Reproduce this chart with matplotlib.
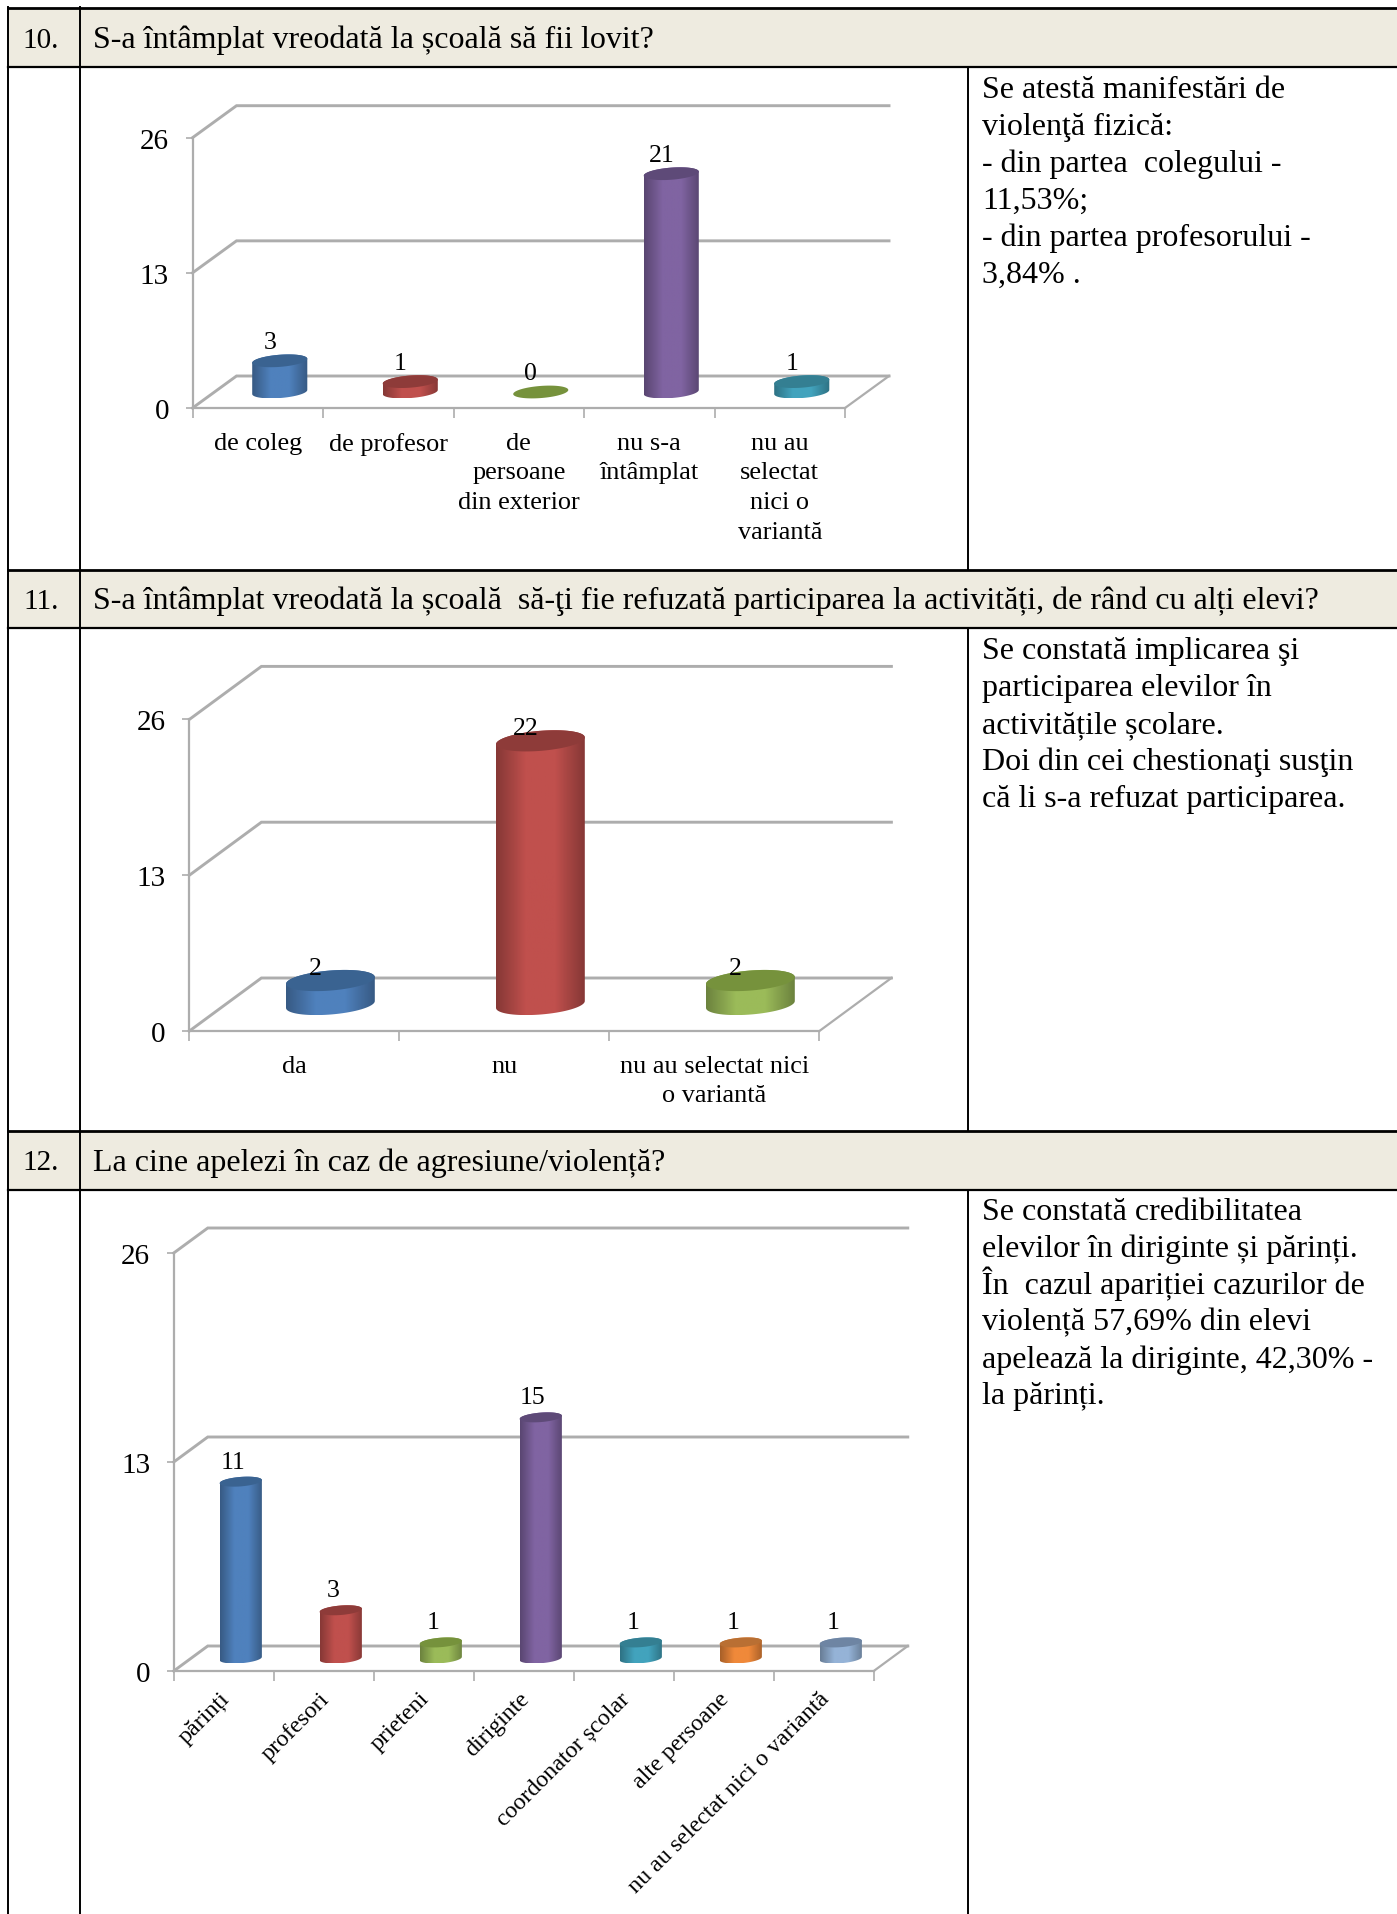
"""Survey table with three pseudo-3D cylinder column charts."""
import matplotlib

matplotlib.use("Agg")
import matplotlib.pyplot as plt
import numpy as np
from matplotlib.colors import LinearSegmentedColormap
from matplotlib.patches import Polygon, Rectangle
from matplotlib.transforms import ScaledTranslation

plt.rcParams["font.family"] = ["Liberation Serif", "DejaVu Serif"]

W, H = 1397, 1915

# data
q10_categories = ["de coleg", "de profesor", "de\npersoane\ndin exterior", "nu s-a\nîntâmplat",
                  "nu au\nselectat\nnici o\nvariantă"]
q10_values = [3, 1, 0, 21, 1]
q11_categories = ["da", "nu", "nu au selectat nici\no variantă"]
q11_values = [2, 22, 2]
q12_categories = ["părinți", "profesori", "prieteni", "diriginte", "coordonator școlar",
                  "alte persoane", "nu au selectat nici o variantă"]
q12_values = [11, 3, 1, 15, 1, 1, 1]
y_ticks = [0, 13, 26]

q_numbers = ["10.", "11.", "12."]
q_titles = [
    "S-a întâmplat vreodată la școală să fii lovit?",
    "S-a întâmplat vreodată la școală  să-ţi fie refuzată participarea la activități, de rând cu alți elevi?",
    "La cine apelezi în caz de agresiune/violență?",
]
q_comments = [
    ["Se atestă manifestări de", "violenţă fizică:", "- din partea  colegului -", "11,53%;",
     "- din partea profesorului -", "3,84% ."],
    ["Se constată implicarea şi", "participarea elevilor în", "activitățile școlare.",
     "Doi din cei chestionaţi susţin", "că li s-a refuzat participarea."],
    ["Se constată credibilitatea", "elevilor în diriginte și părinți.", "În  cazul apariției cazurilor de",
     "violență 57,69% din elevi", "apelează la diriginte, 42,30% -", "la părinți."],
]

# body, cap
PALETTE = [("#4F81BD", "#3A6391"), ("#C0504D", "#8E3B39"), ("#9BBB59", "#76923C"),
           ("#8064A2", "#5E4A78"), ("#42A3BD", "#347F92"), ("#F0893A", "#B96F33"),
           ("#95B3D7", "#6E85A3")]
Q10_COLORS = [0, 1, 2, 3, 4]
Q11_COLORS = [0, 1, 2]
Q12_COLORS = [0, 1, 2, 3, 4, 5, 6]

GREY = "#ADADAD"
HEADER_BG = "#EEEBE0"
LEFT, COL1, COL3 = 7.5, 79.5, 967.5
HEADERS = [(9, 68), (571, 628.5), (1132, 1190.5)]
COMMENT_BASELINES = [98, 659, 1220]
COMMENT_PITCH = 36.9


def px_axes(fig, x0, x1, y_bottom, y_top):
    """Axes placed by its pixel box (pixels counted from the top of the image)."""
    return fig.add_axes([x0 / W, 1 - y_bottom / H, (x1 - x0) / W, (y_bottom - y_top) / H])


def gradient_cmap(body):
    r, g, b = matplotlib.colors.to_rgb(body)
    dark = (r * 0.7, g * 0.7, b * 0.7)
    return LinearSegmentedColormap.from_list("cyl", [dark, body, body, dark])


def draw_cylinder(ax, cx, base, value, ddx, ddy, colors):
    """Skewed cylinder standing on the floor; ddx, ddy is the floor depth in data units."""
    body, cap = colors
    a, b = 0.2, 0.2
    t0 = np.arctan2(b * ddx, a)
    half_w = np.hypot(a, b * ddx)

    def ellipse(t, y):
        return np.column_stack([cx + a * np.cos(t) + b * ddx * np.sin(t), y + b * ddy * np.sin(t)])

    top = base + value
    if value > 0:
        lower = ellipse(np.linspace(t0 + np.pi, t0 + 2 * np.pi, 40), base)
        upper = ellipse(np.linspace(t0, t0 + np.pi, 40), top)
        outline = Polygon(np.vstack([lower, upper]), closed=True, facecolor="none",
                          edgecolor="none", transform=ax.transData)
        ax.add_patch(outline)
        im = ax.imshow(np.linspace(0, 1, 64)[None, :], cmap=gradient_cmap(body), aspect="auto",
                       extent=[cx - half_w, cx + half_w, base - b * ddy, top + b * ddy], zorder=3)
        im.set_clip_path(outline)
    ax.add_patch(Polygon(ellipse(np.linspace(0, 2 * np.pi, 80), top), closed=True,
                         facecolor=cap, edgecolor="none", zorder=4))
    return top


def draw_chart(fig, categories, values, color_idx, box, depth, label_off, fs, rotated=False):
    x0, x1, y0, y26 = box
    n = len(categories)
    ax = px_axes(fig, x0, x1, y0, y26)
    ax.patch.set_alpha(0)
    slot_px = (x1 - x0) / n
    unit_px = (y0 - y26) / y_ticks[-1]
    ddx, ddy = depth[0] / slot_px, depth[1] / unit_px

    # walls and floor
    for v in y_ticks:
        ax.plot([0, ddx, n + ddx], [v, v + ddy, v + ddy], color=GREY, lw=2.1, zorder=1,
                clip_on=False, solid_joinstyle="miter")
    ax.plot([n, n + ddx], [0, ddy], color=GREY, lw=1.6, zorder=1, clip_on=False)

    base = 0.5 * ddy
    for i, (v, c) in enumerate(zip(values, color_idx)):
        cx = i + 0.5 + 0.5 * ddx
        top = draw_cylinder(ax, cx, base, v, ddx, ddy, PALETTE[c])
        ax.annotate(str(v), (cx, top), xytext=(label_off[0] * 0.72, -label_off[1] * 0.72),
                    textcoords="offset points", ha="center", va="center", fontsize=18.5,
                    zorder=5, annotation_clip=False)

    ax.set_xlim(0, n)
    ax.set_ylim(0, y_ticks[-1])
    for side in ("top", "right"):
        ax.spines[side].set_visible(False)
    for side in ("left", "bottom"):
        ax.spines[side].set_color(GREY)
        ax.spines[side].set_linewidth(1.6)
    ax.set_yticks(y_ticks)
    ax.tick_params(axis="y", length=5, width=1.2, color=GREY, labelsize=21, pad=12)
    ax.set_xticks(range(n + 1), [""] * (n + 1))
    ax.tick_params(axis="x", which="major", length=7, width=1.2, color=GREY)
    ax.set_xticks(np.arange(n) + 0.5, minor=True)
    if rotated:
        labels = ax.set_xticklabels(categories, minor=True, rotation=45, ha="right", va="top",
                                    rotation_mode="anchor", fontsize=fs)
        ax.tick_params(axis="x", which="minor", length=0, pad=12)
        for lab in labels:
            lab.set_transform(lab.get_transform() + ScaledTranslation(-5 / 100, 0, fig.dpi_scale_trans))
    else:
        ax.set_xticklabels(categories, minor=True, fontsize=fs, linespacing=1.46)
        ax.tick_params(axis="x", which="minor", length=0, pad=17)
    return ax


fig = plt.figure(figsize=(W / 100, H / 100), dpi=100, facecolor="white")

# table frame and text
table = fig.add_axes([0, 0, 1, 1], zorder=-1)
table.set_xlim(0, W)
table.set_ylim(H, 0)
table.axis("off")
for i, (top, bottom) in enumerate(HEADERS):
    table.add_patch(Rectangle((LEFT, top), W - LEFT, bottom - top, facecolor=HEADER_BG, edgecolor="none"))
    table.plot([LEFT, W], [top, top], color="black", lw=2.0)
    table.plot([LEFT, W], [bottom, bottom], color="black", lw=1.6)
    mid = (top + bottom) / 2 + 2
    table.text(41, mid, q_numbers[i], ha="center", va="center", fontsize=21)
    table.text(93, mid, q_titles[i], ha="left", va="center", fontsize=23)
    end = HEADERS[i + 1][0] if i < 2 else H
    table.plot([COL3, COL3], [bottom, end], color="black", lw=1.4)
    for k, line in enumerate(q_comments[i]):
        table.text(982, COMMENT_BASELINES[i] + k * COMMENT_PITCH, line, ha="left", va="baseline",
                   fontsize=23)
table.plot([LEFT, LEFT], [8, H], color="black", lw=1.4)
table.plot([COL1, COL1], [8, H], color="black", lw=1.4)

draw_chart(fig, q10_categories, q10_values, Q10_COLORS, (192.5, 845, 409, 138.7), (44, 32),
           (-10, -19), 18.9)
draw_chart(fig, q11_categories, q11_values, Q11_COLORS, (189.4, 819.4, 1032, 720.4), (72, 53),
           (-15, -13), 18.9)
draw_chart(fig, q12_categories, q12_values, Q12_COLORS, (173.75, 873.75, 1672, 1254), (34, 25),
           (-8, -20), 17.3, rotated=True)

fig.savefig("out.png", dpi=100)
